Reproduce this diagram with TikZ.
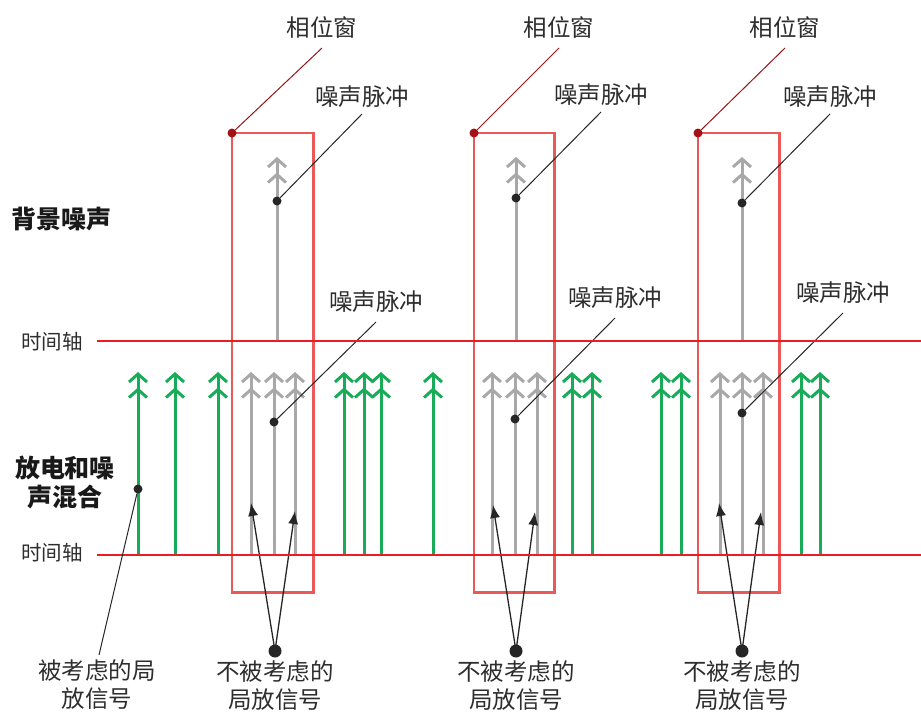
\documentclass[tikz,border=0pt]{standalone}
\usepackage{fontspec}
\setmainfont{Noto Sans CJK SC}
\usetikzlibrary{arrows.meta}
\definecolor{axisred}{RGB}{236,28,36}
\definecolor{winred}{RGB}{234,88,88}
\definecolor{pdgreen}{RGB}{24,172,88}
\definecolor{noisegray}{RGB}{168,168,168}
\definecolor{callred}{RGB}{150,20,25}
\definecolor{txt}{RGB}{45,45,45}
\tikzset{
  axisline/.style={axisred, line width=2.8pt},
  winbox/.style={winred, line width=2.4pt},
  chev/.style={-{Straight Barb[length=8pt,width=18pt,sep=4pt] Straight Barb[length=8pt,width=18pt]}},
  pdarrow/.style={pdgreen, line width=3pt, chev},
  noisearrow/.style={noisegray, line width=3pt, chev},
  lbl/.style={font=\fontsize{23.5}{28}\selectfont, text=txt, inner sep=0pt, align=center},
  axlbl/.style={font=\fontsize{20.5}{22}\selectfont, text=txt, inner sep=0pt},
  boldlbl/.style={font=\bfseries\fontsize{25}{29}\selectfont, text=black!90, inner sep=0pt, align=center},
  callout/.style={black!85, line width=1pt},
  redcallout/.style={callred, line width=1pt},
  pointer/.style={black!85, line width=1.3pt, -{Latex[length=13pt,width=10pt]}},
  smalldot/.style={circle, fill=black!85, inner sep=0pt, minimum size=9pt},
  reddot/.style={circle, fill=callred!85!red, inner sep=0pt, minimum size=9pt},
  bigdot/.style={circle, fill=black!85, inner sep=0pt, minimum size=13pt},
}
\begin{document}
\begin{tikzpicture}[x=1pt,y=-1pt]
\useasboundingbox (0,0) rectangle (921,715);

% axes
\node[axlbl] (ax1) at (52,342) {时间轴};
\node[axlbl] (ax2) at (52,553) {时间轴};
\coordinate (ax1e) at (921,341);
\coordinate (ax2e) at (921,555);
\coordinate (ax1s) at (97,341);
\coordinate (ax2s) at (97,555);

% left labels
\node[boldlbl] (bg) at (61,219) {背景噪声};
\node[boldlbl] (mix) at (65,482) {放电和噪\\声混合};

% green PD arrows
\foreach \x [count=\i] in {138,175,218,344,364,381,433,572,592,661,681,801,820}{
  \coordinate (g\i b) at (\x,555);
  \coordinate (g\i t) at (\x,372);
  \draw[pdarrow] (g\i b) -- (g\i t);
}

% windows
\foreach \w/\L/\R/\n/\nd/\ga/\gb/\gc/\ld/\px/\nx/\ny/\lx/\ly/\bx/\la/\lya/\lb/\lyb in {
  1/232/313/277/201/251/274/295/422/322/362/97/376/302/275/251/503/295/511,
  2/474/554/516/198/492/515/537/419/559/601/95/615/298/516/493/505/535/512,
  3/698/779/742/203/720/742/763/413/785/830/97/843/293/742/719/503/761/512}{
  % gray noise arrows
  \coordinate (n\w b) at (\n,341);
  \coordinate (n\w t) at (\n,157);
  \draw[noisearrow] (n\w b) -- (n\w t);
  \coordinate (ga\w b) at (\ga,555); \coordinate (ga\w t) at (\ga,372);
  \coordinate (gb\w b) at (\gb,555); \coordinate (gb\w t) at (\gb,372);
  \coordinate (gc\w b) at (\gc,555); \coordinate (gc\w t) at (\gc,372);
  \draw[noisearrow] (ga\w b) -- (ga\w t);
  \draw[noisearrow] (gb\w b) -- (gb\w t);
  \draw[noisearrow] (gc\w b) -- (gc\w t);
  % window box
  \node[draw=none, inner sep=0pt, minimum width={\R-\L}, minimum height=459, anchor=north west] (win\w) at (\L,133) {};
  \draw[winbox] (win\w.north west) rectangle (win\w.south east);
  \node[reddot] (wd\w) at (win\w.north west) {};
  % labels
  \node[lbl] (phase\w) at (\px,28) {相位窗};
  \draw[redcallout] (\px,48) -- (wd\w);
  \node[lbl] (ntop\w) at (\nx,\ny) {噪声脉冲};
  \node[smalldot] (ndt\w) at (\n,\nd) {};
  \draw[callout] (\nx,\ny+17) -- (ndt\w);
  \node[lbl] (nlow\w) at (\lx,\ly) {噪声脉冲};
  \node[smalldot] (ndl\w) at (\gb,\ld) {};
  \draw[callout] (\lx,\ly+20) -- (ndl\w);
  % not considered
  \node[lbl] (nc\w) at (\bx,686) {不被考虑的\\局放信号};
  \node[bigdot] (bd\w) at (\bx,651) {};
  \coordinate (pa\w) at (\la,\lya);
  \coordinate (pb\w) at (\lb,\lyb);
  \draw[pointer] (bd\w.center) -- (pa\w);
  \draw[pointer] (bd\w.center) -- (pb\w);
}

% axis lines
\draw[axisline] (ax1s) -- (ax1e);
\draw[axisline] (ax2s) -- (ax2e);

% considered PD
\node[smalldot] (cd) at (138,489) {};
\node[lbl] (cons) at (97,685) {被考虑的局\\放信号};
\coordinate (consTop) at (99,655);
\draw[callout] (consTop) -- (cd);
\end{tikzpicture}
\end{document}
